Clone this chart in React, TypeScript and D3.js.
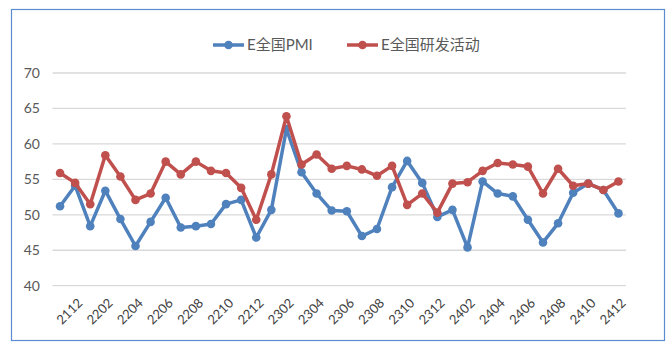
import { useEffect, useRef } from "react";
import * as d3 from "d3";

// months 2111..2412 (first point has no label, labels every other month)
const months = [
  "2111", "2112",
  "2201", "2202", "2203", "2204", "2205", "2206", "2207", "2208", "2209", "2210", "2211", "2212",
  "2301", "2302", "2303", "2304", "2305", "2306", "2307", "2308", "2309", "2310", "2311", "2312",
  "2401", "2402", "2403", "2404", "2405", "2406", "2407", "2408", "2409", "2410", "2411", "2412",
];

const pmi = [
  51.2, 54.1, 48.4, 53.4, 49.4, 45.6, 49.0, 52.4, 48.2, 48.4, 48.7, 51.5, 52.1,
  46.8, 50.7, 62.1, 56.0, 53.0, 50.6, 50.5, 47.0, 48.0, 53.9, 57.6, 54.5, 49.7,
  50.7, 45.4, 54.7, 53.0, 52.6, 49.3, 46.1, 48.8, 53.1, 54.4, 53.5, 50.2,
];

const rnd = [
  55.9, 54.5, 51.5, 58.4, 55.4, 52.1, 53.0, 57.5, 55.7, 57.5, 56.2, 55.9, 53.8,
  49.3, 55.7, 63.9, 57.1, 58.5, 56.5, 56.9, 56.4, 55.5, 56.9, 51.4, 53.0, 50.3,
  54.4, 54.6, 56.2, 57.3, 57.1, 56.8, 53.0, 56.5, 54.1, 54.4, 53.5, 54.7,
];

const yTicks = [40, 45, 50, 55, 60, 65, 70];

const series = [
  { name: "E全国PMI", values: pmi, color: "#4F81BD" },
  { name: "E全国研发活动", values: rnd, color: "#C0504D" },
];

const FONT = "Lato, 'Noto Sans CJK SC', sans-serif";

export default function App() {
  const ref = useRef<SVGSVGElement>(null);

  useEffect(() => {
    if (!ref.current) return;
    const svg = d3.select(ref.current);
    svg.selectAll("*").remove();

    const width = 672;
    const height = 352;
    const left = 52.5;
    const right = 626;
    const top = 73;
    const bottom = 285.7;

    svg.attr("width", width).attr("height", height);

    // chart frame
    svg.append("rect")
      .attr("x", 11.5).attr("y", 9.5)
      .attr("width", 653).attr("height", 331)
      .attr("fill", "white")
      .attr("stroke", "#5B8CD0")
      .attr("stroke-width", 1.2);

    const x = d3.scaleBand<string>().domain(months).range([left, right]);
    const cx = (m: string) => x(m)! + x.bandwidth() / 2;
    const y = d3.scaleLinear().domain([40, 70]).range([bottom, top]);

    // gridlines
    svg.append("g")
      .selectAll("line")
      .data(yTicks)
      .join("line")
      .attr("x1", left).attr("x2", right)
      .attr("y1", (d) => y(d)).attr("y2", (d) => y(d))
      .attr("stroke", "#D9D9D9")
      .attr("stroke-width", 1.3);

    // y labels
    svg.append("g")
      .selectAll("text")
      .data(yTicks)
      .join("text")
      .attr("x", 40)
      .attr("y", (d) => y(d))
      .attr("dy", "0.35em")
      .attr("text-anchor", "end")
      .style("font-family", FONT)
      .style("font-size", "14px")
      .style("fill", "#595959")
      .text((d) => d);

    // x labels, every other month starting at 2112
    const labelled = months.filter((_, i) => i % 2 === 1);
    svg.append("g")
      .selectAll("text")
      .data(labelled)
      .join("text")
      .attr("transform", (d) => `translate(${cx(d) + 5},${bottom + 15}) rotate(-45)`)
      .attr("text-anchor", "end")
      .attr("dy", "0.35em")
      .style("font-family", FONT)
      .style("font-size", "13px")
      .style("fill", "#404040")
      .text((d) => d);

    const line = d3.line<number>()
      .x((_, i) => cx(months[i]))
      .y((d) => y(d));

    series.forEach((s) => {
      svg.append("path")
        .datum(s.values)
        .attr("d", line)
        .attr("fill", "none")
        .attr("stroke", s.color)
        .attr("stroke-width", 3.5)
        .attr("stroke-linejoin", "round");

      svg.append("g")
        .selectAll("circle")
        .data(s.values)
        .join("circle")
        .attr("cx", (_, i) => cx(months[i]))
        .attr("cy", (d) => y(d))
        .attr("r", 4.3)
        .attr("fill", s.color);
    });

    // legend
    const legendY = 45;
    const legendX = [213, 347];
    series.forEach((s, i) => {
      const g = svg.append("g").attr("transform", `translate(${legendX[i]},${legendY})`);
      g.append("line")
        .attr("x1", 0).attr("x2", 31)
        .attr("y1", 0).attr("y2", 0)
        .attr("stroke", s.color)
        .attr("stroke-width", 3.5);
      g.append("circle").attr("cx", 15.5).attr("cy", 0).attr("r", 4.3).attr("fill", s.color);
      g.append("text")
        .attr("x", 34)
        .attr("dy", "0.35em")
        .style("font-family", FONT)
        .style("font-size", "15px")
        .style("fill", "#595959")
        .text(s.name);
    });
  }, []);

  return (
    <svg
      ref={ref}
      style={{ position: "absolute", left: 0, top: 0, display: "block" }}
    />
  );
}
